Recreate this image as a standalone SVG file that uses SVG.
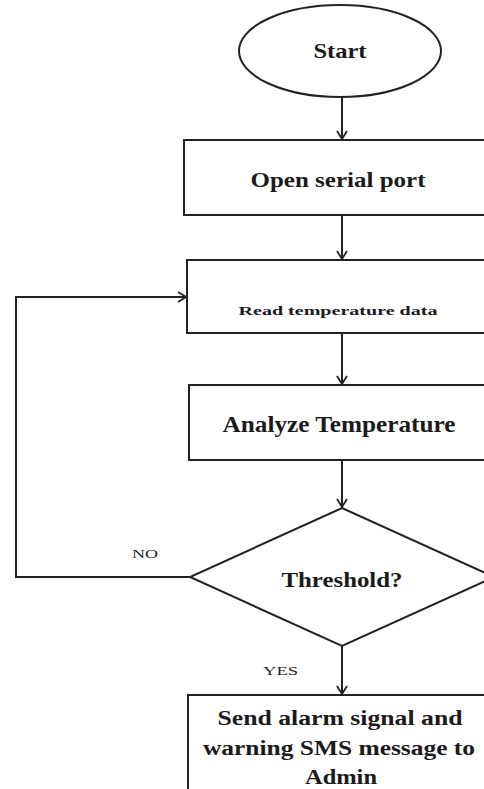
<svg xmlns="http://www.w3.org/2000/svg" width="484" height="789" viewBox="0 0 484 789">
<style>
.shape{fill:#ffffff;stroke:#222222;stroke-width:2}
.conn{fill:none;stroke:#222222;stroke-width:2}
.t{font-family:"Liberation Serif","Times New Roman",serif;font-weight:bold;fill:#1a1a1a;text-anchor:middle}
.lbl{font-family:"Liberation Serif","Times New Roman",serif;font-size:13px;fill:#222222}
</style>
<defs>
<marker id="arr" viewBox="0 0 10 12" refX="9" refY="6" markerWidth="10" markerHeight="12" markerUnits="userSpaceOnUse" orient="auto">
<polyline points="1,1 9,6 1,11" fill="none" stroke="#222222" stroke-width="1.8"/>
</marker>
</defs>
<rect width="484" height="789" fill="#ffffff"/>
<g id="connectors">
<line class="conn" x1="342" y1="97" x2="342" y2="139" marker-end="url(#arr)"/>
<line class="conn" x1="342" y1="215" x2="342" y2="259" marker-end="url(#arr)"/>
<line class="conn" x1="342" y1="333" x2="342" y2="384" marker-end="url(#arr)"/>
<line class="conn" x1="342" y1="460" x2="342" y2="507" marker-end="url(#arr)"/>
<line class="conn" x1="342" y1="646" x2="342" y2="694" marker-end="url(#arr)"/>
<polyline class="conn" points="190,577 16,577 16,297 186,297" marker-end="url(#arr)"/>
<text class="lbl" x="132" y="558" textLength="26" lengthAdjust="spacingAndGlyphs">NO</text>
<text class="lbl" x="263" y="675" textLength="35" lengthAdjust="spacingAndGlyphs">YES</text>
</g>
<g id="start">
<ellipse class="shape" cx="340" cy="51" rx="101" ry="46"/>
<text class="t" x="340" y="58" font-size="21" textLength="53" lengthAdjust="spacingAndGlyphs">Start</text>
</g>
<g id="open-port">
<rect class="shape" x="184" y="140" width="310" height="75"/>
<text class="t" x="338" y="187" font-size="21" textLength="175" lengthAdjust="spacingAndGlyphs">Open serial port</text>
</g>
<g id="read-data">
<rect class="shape" x="187" y="260" width="310" height="73"/>
<text class="t" x="338" y="315" font-size="13" textLength="199" lengthAdjust="spacingAndGlyphs">Read temperature  data</text>
</g>
<g id="analyze">
<rect class="shape" x="189" y="385" width="310" height="75"/>
<text class="t" x="339" y="432" font-size="23" textLength="233" lengthAdjust="spacingAndGlyphs">Analyze Temperature</text>
</g>
<g id="threshold">
<polygon class="shape" points="342,508 494,577 342,646 190,577"/>
<text class="t" x="342" y="587" font-size="21" textLength="121" lengthAdjust="spacingAndGlyphs">Threshold?</text>
</g>
<g id="send-alarm">
<rect class="shape" x="188" y="695" width="310" height="110"/>
<text class="t" x="340" y="725" font-size="20" textLength="245" lengthAdjust="spacingAndGlyphs">Send alarm signal and</text>
<text class="t" x="339" y="755" font-size="20" textLength="272" lengthAdjust="spacingAndGlyphs">warning SMS message to</text>
<text class="t" x="341" y="784" font-size="20" textLength="72" lengthAdjust="spacingAndGlyphs">Admin</text>
</g>
</svg>
